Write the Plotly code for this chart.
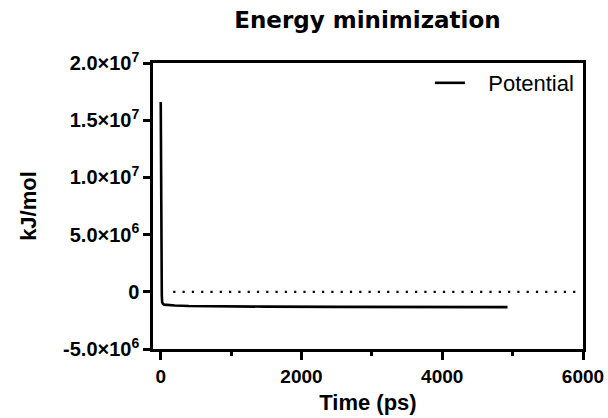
import plotly.graph_objects as go

time_ps = [0, 2, 5, 10, 15, 20, 30, 50, 100, 200, 400, 800, 1500, 2500, 3500, 4928]
potential = [1.66e7, 1.2e7, 6.0e6, 1.5e6, -0.3e6, -0.9e6, -1.05e6, -1.12e6, -1.16e6,
             -1.2e6, -1.24e6, -1.27e6, -1.3e6, -1.32e6, -1.33e6, -1.34e6]

y_tickvals = [-5e6, 0, 5e6, 1e7, 1.5e7, 2e7]
y_ticktext = ["-5.0×10<sup>6</sup>", "0", "5.0×10<sup>6</sup>", "1.0×10<sup>7</sup>",
              "1.5×10<sup>7</sup>", "2.0×10<sup>7</sup>"]
x_tickvals = [0, 2000, 4000, 6000]
x_ticktext = ["0", "2000", "4000", "6000"]
x_minor = [1000, 3000, 5000]

font = "Liberation Sans, Arial, sans-serif"

fig = go.Figure()
fig.add_trace(go.Scatter(x=time_ps, y=potential, mode="lines",
                         name="&nbsp;&nbsp;&nbsp;Potential",
                         line=dict(color="black", width=2.6)))

fig.add_shape(type="line", xref="paper", yref="y", x0=0.047, x1=0.986, y0=0, y1=0,
              line=dict(color="black", width=2.2, dash="2.2px,7.1px"))

fig.update_layout(
    width=608, height=418,
    margin=dict(l=153, r=25, t=63, b=69, autoexpand=False),
    paper_bgcolor="white", plot_bgcolor="white",
    font=dict(family=font, color="black"),
    title=dict(text="<b>Energy minimization</b>", x=0.6044, xanchor="center", y=0.952,
               yanchor="middle", automargin=False,
               font=dict(size=23, family="DejaVu Sans, sans-serif")),
    showlegend=True,
    legend=dict(x=0.644, y=0.93, xanchor="left", yanchor="middle",
                bgcolor="rgba(0,0,0,0)", borderwidth=0,
                font=dict(size=22, family=font)),
    xaxis=dict(range=[-110, 6000], tickvals=x_tickvals, ticktext=x_ticktext,
               automargin=False,
               showgrid=False, zeroline=False, showline=True, linecolor="black", linewidth=2.5,
               mirror=True, ticks="outside", ticklen=8, tickwidth=2.5, tickcolor="black",
               minor=dict(tickvals=x_minor, ticks="outside", ticklen=4,
                          tickwidth=2.5, tickcolor="black"),
               tickfont=dict(size=19, family=font, weight="bold"),
               title=dict(text="<b>Time (ps)</b>", font=dict(size=22, family=font), standoff=10)),
    yaxis=dict(range=[-5e6, 2e7], tickvals=y_tickvals, ticktext=y_ticktext,
               automargin=False,
               showgrid=False, zeroline=False, showline=True, linecolor="black", linewidth=2.5,
               mirror=True, ticks="outside", ticklen=7, tickwidth=2.5, tickcolor="black",
               tickfont=dict(size=20, family=font, weight="bold"),
               title=dict(text="<b>kJ/mol</b>", font=dict(size=22, family=font), standoff=21)),
)

fig.write_html("out.html", config={"displayModeBar": False},
               post_script="document.body.style.margin='0';")
